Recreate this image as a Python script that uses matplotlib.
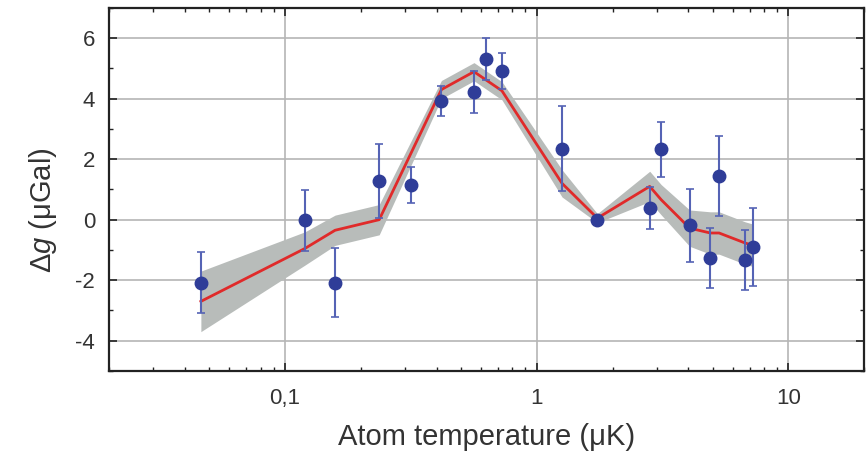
import matplotlib
matplotlib.use('Agg')
import matplotlib.pyplot as plt
from matplotlib.ticker import FixedLocator, FuncFormatter, LogLocator, MultipleLocator, NullFormatter

plt.rcParams['font.family'] = ['Liberation Sans', 'DejaVu Sans']
plt.rcParams['axes.unicode_minus'] = False
plt.rcParams['mathtext.fontset'] = 'custom'
plt.rcParams['mathtext.it'] = 'Liberation Sans:italic'
plt.rcParams['mathtext.rm'] = 'Liberation Sans'

# measured points
temp = [0.0463, 0.12, 0.158, 0.2366, 0.316, 0.418, 0.563, 0.63, 0.727,
        1.26, 1.74, 2.81, 3.12, 4.05, 4.89, 5.3, 6.72, 7.25]
dg = [-2.08, -0.02, -2.08, 1.27, 1.14, 3.92, 4.22, 5.3, 4.92,
      2.35, 0.0, 0.39, 2.32, -0.19, -1.27, 1.44, -1.33, -0.9]
dg_err = [1.0, 1.0, 1.15, 1.22, 0.6, 0.5, 0.7, 0.7, 0.6,
          1.4, 0.1, 0.7, 0.9, 1.2, 1.0, 1.33, 1.0, 1.28]

# model curve and its uncertainty band
fit_t = [0.0463, 0.12, 0.158, 0.2366, 0.418, 0.563, 0.727,
         1.26, 1.74, 2.81, 3.12, 4.05, 4.89, 5.3, 6.72, 7.25]
fit_g = [-2.7, -0.95, -0.35, 0.0, 4.3, 4.89, 4.26,
         1.2, 0.05, 1.1, 0.66, -0.28, -0.44, -0.44, -0.77, -0.85]
fit_w = [1.0, 0.55, 0.5, 0.5, 0.3, 0.3, 0.3,
         0.45, 0.15, 0.5, 0.5, 0.6, 0.7, 0.7, 0.7, 0.7]

fig = plt.figure(figsize=(8.66, 4.62), dpi=100)
ax = fig.add_axes([0.126, 0.197, 0.872, 0.786])

lo = [g - w for g, w in zip(fit_g, fit_w)]
hi = [g + w for g, w in zip(fit_g, fit_w)]
ax.fill_between(fit_t, lo, hi, color='#b8bcba', lw=0, zorder=2)
ax.plot(fit_t, fit_g, color='#e02a2a', lw=2, zorder=3)
ax.errorbar(temp, dg, yerr=dg_err, fmt='o', color='#2f3d98', ms=9,
            ecolor='#5563b5', elinewidth=1.5, capsize=3, capthick=1.2, zorder=4)

ax.set_xscale('log')
ax.set_xlim(0.02, 20)
ax.set_ylim(-5, 7)
ax.xaxis.set_major_locator(FixedLocator([0.1, 1, 10]))
ax.xaxis.set_major_formatter(FuncFormatter(lambda v, p: {0.1: '0,1', 1: '1', 10: '10'}.get(round(v, 3), '')))
ax.xaxis.set_minor_locator(LogLocator(base=10, subs=range(2, 10)))
ax.xaxis.set_minor_formatter(NullFormatter())
ax.yaxis.set_major_locator(MultipleLocator(2))
ax.yaxis.set_minor_locator(MultipleLocator(1))

ax.grid(True, which='major', color='#b5b5b5', lw=1.2, zorder=0)
ax.set_axisbelow(True)
ax.tick_params(which='both', direction='in', top=True, right=True, labelsize=16,
               color='#222222', labelcolor='#333333')
ax.tick_params(axis='x', which='major', pad=12)
ax.tick_params(axis='y', which='major', pad=10)
ax.tick_params(which='major', length=6, width=1.2)
ax.tick_params(which='minor', length=3, width=1)
for s in ax.spines.values():
    s.set_linewidth(1.6)
    s.set_color('#222222')

ax.set_xlabel('Atom temperature (μK)', fontsize=21, color='#333333', labelpad=10)
ax.set_ylabel('Δ$\\it{g}$ (μGal)', fontsize=21, color='#333333')
ax.yaxis.set_label_coords(-0.066, 0.444)

fig.savefig('out.png', dpi=100)
